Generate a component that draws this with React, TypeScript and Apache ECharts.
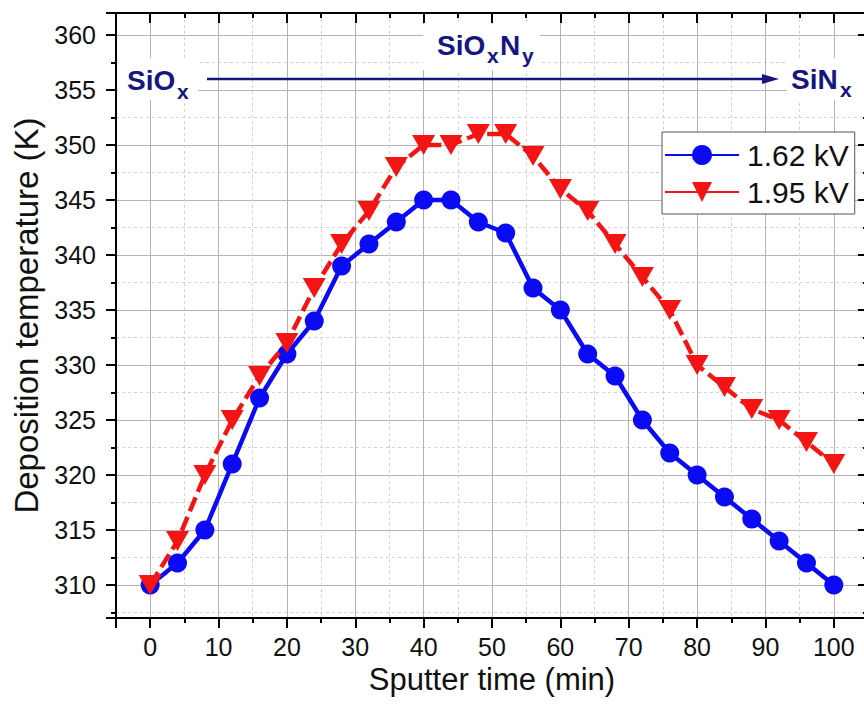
import React, { useEffect, useRef } from 'react';
import * as echarts from 'echarts';

// ---- data ----
const times = [0, 4, 8, 12, 16, 20, 24, 28, 32, 36, 40, 44, 48, 52, 56, 60, 64, 68, 72, 76, 80, 84, 88, 92, 96, 100];
const temp162 = [310, 312, 315, 321, 327, 331, 334, 339, 341, 343, 345, 345, 343, 342, 337, 335, 331, 329, 325, 322, 320, 318, 316, 314, 312, 310];
const temp195 = [310, 314, 320, 325, 329, 332, 337, 341, 344, 348, 350, 350, 351, 351, 349, 346, 344, 341, 338, 335, 330, 328, 326, 325, 323, 321];
const seriesNames = ['1.62 kV', '1.95 kV'];
const xTitle = 'Sputter time (min)';
const yTitle = 'Deposition temperature (K)';
const xRange = [-5, 105];
const yRange = [307, 362];

const FONT = "'Liberation Sans', Arial, Helvetica, sans-serif";
const NAVY = '#16167e';
const BLUE = '#0a0af5';
const RED = '#f51414';
const MAJOR_GRID = '#b4b4b4';
const MINOR_GRID = '#d2d2d2';

export default function App() {
  const ref = useRef<HTMLDivElement>(null);

  useEffect(() => {
    const chart = echarts.init(ref.current as HTMLDivElement, null, { renderer: 'svg' });

    const tickStyle = { color: '#000', width: 2 };
    const majorX = { type: 'value', min: xRange[0], max: xRange[1], splitNumber: 11 };
    // minor-tick helper axis: shifted by half a major step so nice ticks fall on the minor positions
    const minorX = { type: 'value', min: xRange[0] - 5, max: xRange[1] - 5, splitNumber: 11 };
    const majorY = { type: 'value', min: yRange[0], max: yRange[1], splitNumber: 11 };
    const minorY = { type: 'value', min: yRange[0] - 2.5, max: yRange[1] - 2.5, splitNumber: 11 };

    const mainText = (x: number, y: number, text: string) => ({
      type: 'text', z: 6, x, y,
      style: { text, fill: NAVY, fontSize: 28, fontWeight: 'bold', fontFamily: FONT, align: 'left', verticalAlign: 'middle' },
    });
    const subText = (x: number, y: number, text: string) => ({
      type: 'text', z: 6, x, y,
      style: { text, fill: NAVY, fontSize: 21, fontWeight: 'bold', fontFamily: FONT, align: 'left', verticalAlign: 'middle' },
    });

    const option: any = {
      animation: false,
      backgroundColor: '#ffffff',
      textStyle: { fontFamily: FONT },
      grid: {
        left: 116,
        top: 13,
        right: -4,
        bottom: 96,
        containLabel: false,
        outerBoundsMode: 'none',
      },
      legend: {
        data: seriesNames,
        orient: 'vertical',
        left: 662,
        top: 132,
        padding: [8, 6, 7, 2],
        itemWidth: 74,
        itemHeight: 25,
        itemGap: 7,
        backgroundColor: '#ffffff',
        borderColor: '#555555',
        borderWidth: 1,
        borderRadius: 0,
        lineStyle: { type: 'solid' },
        textStyle: { fontSize: 30, fontFamily: FONT, color: '#111', lineHeight: 30, padding: [0, 0, 0, 3] },
        z: 10,
      },
      xAxis: [
        {
          ...majorX,
          position: 'bottom',
          axisLine: { show: true, onZero: false, lineStyle: { color: '#000', width: 2 } },
          axisTick: { show: true, inside: false, length: 10, lineStyle: tickStyle },
          axisLabel: {
            show: true,
            margin: 16,
            fontSize: 25,
            color: '#111',
            fontFamily: FONT,
            formatter: (v: number) => (v % 10 === 0 && v >= 0 && v <= 100 ? String(v) : ''),
          },
          splitLine: { show: true, lineStyle: { color: MAJOR_GRID, width: 1 } },
          name: xTitle,
          nameLocation: 'middle',
          nameGap: 44,
          nameTextStyle: { fontSize: 31, color: '#111', fontFamily: FONT },
        },
        {
          ...minorX,
          position: 'bottom',
          axisLine: { show: false, onZero: false },
          axisTick: { show: true, inside: false, length: 5, lineStyle: tickStyle },
          axisLabel: { show: false },
          splitLine: { show: true, lineStyle: { color: MINOR_GRID, width: 1, type: [3, 3] } },
        },
        {
          ...majorX,
          position: 'top',
          axisLine: { show: true, onZero: false, lineStyle: { color: '#000', width: 2 } },
          axisTick: { show: true, inside: true, length: 10, lineStyle: tickStyle },
          axisLabel: { show: false },
          splitLine: { show: false },
        },
        {
          ...minorX,
          position: 'top',
          axisLine: { show: false, onZero: false },
          axisTick: { show: true, inside: true, length: 5, lineStyle: tickStyle },
          axisLabel: { show: false },
          splitLine: { show: false },
        },
      ],
      yAxis: [
        {
          ...majorY,
          position: 'left',
          axisLine: { show: true, onZero: false, lineStyle: { color: '#000', width: 2 } },
          axisTick: { show: true, inside: false, length: 10, lineStyle: tickStyle },
          axisLabel: {
            show: true,
            margin: 20,
            fontSize: 25,
            color: '#111',
            fontFamily: FONT,
            formatter: (v: number) => (v % 5 === 0 ? String(v) : ''),
          },
          splitLine: { show: true, lineStyle: { color: MAJOR_GRID, width: 1 } },
          name: yTitle,
          nameLocation: 'middle',
          nameGap: 68,
          nameTextStyle: { fontSize: 33, color: '#111', fontFamily: FONT },
        },
        {
          ...minorY,
          position: 'left',
          axisLine: { show: false, onZero: false },
          axisTick: { show: true, inside: false, length: 5, lineStyle: tickStyle },
          axisLabel: { show: false },
          splitLine: { show: true, lineStyle: { color: MINOR_GRID, width: 1, type: [3, 3] } },
        },
        {
          ...majorY,
          position: 'right',
          axisLine: { show: true, onZero: false, lineStyle: { color: '#000', width: 2 } },
          axisTick: { show: true, inside: true, length: 10, lineStyle: tickStyle },
          axisLabel: { show: false },
          splitLine: { show: false },
        },
        {
          ...minorY,
          position: 'right',
          axisLine: { show: false, onZero: false },
          axisTick: { show: true, inside: true, length: 5, lineStyle: tickStyle },
          axisLabel: { show: false },
          splitLine: { show: false },
        },
      ],
      series: [
        {
          name: seriesNames[0],
          type: 'line',
          xAxisIndex: 0,
          yAxisIndex: 0,
          data: times.map((t, i) => [t, temp162[i]]),
          symbol: 'circle',
          symbolSize: 19,
          lineStyle: { color: BLUE, width: 4.5 },
          itemStyle: { color: BLUE },
          z: 3,
        },
        {
          name: seriesNames[1],
          type: 'line',
          xAxisIndex: 0,
          yAxisIndex: 0,
          data: times.map((t, i) => [t, temp195[i]]),
          symbol: 'triangle',
          symbolRotate: 180,
          symbolSize: [23, 20],
          lineStyle: { color: RED, width: 4.5, type: [15, 6] },
          itemStyle: { color: RED },
          z: 4,
        },
      ],
      graphic: {
        elements: [
          { type: 'rect', z: 5, shape: { x: 118, y: 58, width: 80, height: 42 }, style: { fill: '#fff' } },
          { type: 'rect', z: 5, shape: { x: 423, y: 24, width: 117, height: 46 }, style: { fill: '#fff' } },
          { type: 'rect', z: 5, shape: { x: 787, y: 58, width: 80, height: 42 }, style: { fill: '#fff' } },
          { type: 'line', z: 6, shape: { x1: 207, y1: 79, x2: 766, y2: 79 }, style: { stroke: NAVY, lineWidth: 2.5 } },
          { type: 'polygon', z: 6, shape: { points: [[762, 74], [779, 79], [762, 84]] }, style: { fill: NAVY } },
          mainText(127, 80, 'SiO'),
          subText(177, 91, 'x'),
          mainText(437, 45, 'SiO'),
          subText(487, 55, 'x'),
          mainText(500, 45, 'N'),
          subText(522, 55, 'y'),
          mainText(791, 79, 'SiN'),
          subText(840, 89, 'x'),
        ],
      },
    };

    chart.setOption(option);
    return () => {
      chart.dispose();
    };
  }, []);

  return (
    <div
      ref={ref}
      style={{ position: 'absolute', left: 0, top: 0, width: 864, height: 714, background: '#ffffff' }}
    />
  );
}
